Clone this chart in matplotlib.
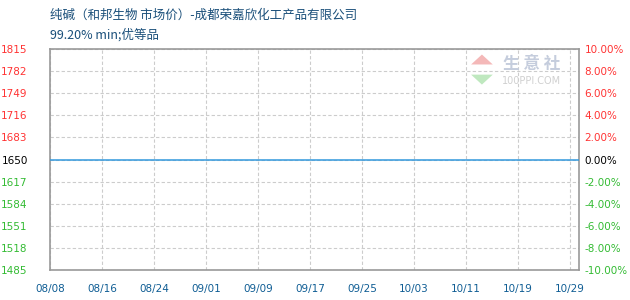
import matplotlib
matplotlib.use("Agg")
import matplotlib.pyplot as plt
from matplotlib.patches import Polygon

plt.rcParams['font.family'] = ['Noto Sans CJK SC', 'DejaVu Sans']

# data
dates = ["08/08", "08/16", "08/24", "09/01", "09/09", "09/17",
         "09/25", "10/03", "10/11", "10/19", "10/29"]
prices = [1650, 1650, 1650, 1650, 1650, 1650, 1650, 1650, 1650, 1650, 1650]
y_ticks = [1485, 1518, 1551, 1584, 1617, 1650, 1683, 1716, 1749, 1782, 1815]
pct_ticks = [-10, -8, -6, -4, -2, 0, 2, 4, 6, 8, 10]

base = 1650
red, green, blue = "#ff3333", "#33bb33", "#0f5d94"

fig = plt.figure(figsize=(6.3, 3.0), dpi=100)
ax = fig.add_axes([50 / 630, 30 / 300, 529 / 630, 221 / 300])

x = list(range(len(dates)))
xmax = len(dates) - 1 + 0.17
ax.plot(x + [xmax], prices + [prices[-1]], color="#3399dd", lw=1.1, zorder=3)

ax.set_xlim(0, xmax)
ax.set_ylim(y_ticks[0], y_ticks[-1])
ax.set_xticks(x)
ax.set_xticklabels(dates, fontsize=7.5, color=blue, family="DejaVu Sans")
ax.set_yticks(y_ticks)
ax.set_yticklabels([str(v) for v in y_ticks], fontsize=7.5, family="DejaVu Sans")
for lab, v in zip(ax.get_yticklabels(), y_ticks):
    lab.set_color(red if v > base else ("black" if v == base else green))
ax.tick_params(axis="y", length=0, pad=16)
ax.tick_params(axis="x", length=0, pad=10)

ax.grid(True, ls=(0, (3, 2)), color="#cccccc", lw=0.8)
for s in ax.spines.values():
    s.set_color("#999999")
    s.set_linewidth(1.2)

ax2 = ax.twinx()
ax2.set_ylim(pct_ticks[0], pct_ticks[-1])
ax2.set_yticks(pct_ticks)
ax2.set_yticklabels([f"{v:.2f}%" for v in pct_ticks], fontsize=7.5, family="DejaVu Sans")
for lab, v in zip(ax2.get_yticklabels(), pct_ticks):
    lab.set_color(red if v > 0 else ("black" if v == 0 else green))
ax2.tick_params(axis="y", length=0, pad=4)
for s in ax2.spines.values():
    s.set_visible(False)

# watermark logo
tr = ax.transAxes
ax.add_patch(Polygon([(0.796, 0.93), (0.837, 0.93), (0.8165, 0.975)], closed=True,
                     transform=tr, color="#f4b8b8", lw=0, zorder=1))
ax.add_patch(Polygon([(0.796, 0.884), (0.837, 0.884), (0.8165, 0.839)], closed=True,
                     transform=tr, color="#bfe8bf", lw=0, zorder=1))
ax.text(0.911, 0.93, "生 意 社", transform=tr, fontsize=12,
        color="#c5cddd", ha="center", va="center", weight="bold")
ax.text(0.911, 0.857, "100PPI.COM", transform=tr, fontsize=7,
        color="#d0d0d0", ha="center", va="center", family="DejaVu Sans")

fig.text(50 / 630, 1 - 15 / 300, "纯碱（和邦生物 市场价）-成都荣嘉欣化工产品有限公司",
         fontsize=9, color="#1a4f7a", va="center")
fig.text(50 / 630, 1 - 35 / 300, "99.20% min;优等品",
         fontsize=9, color="#1a4f7a", va="center")

fig.savefig("out.png", dpi=100)
